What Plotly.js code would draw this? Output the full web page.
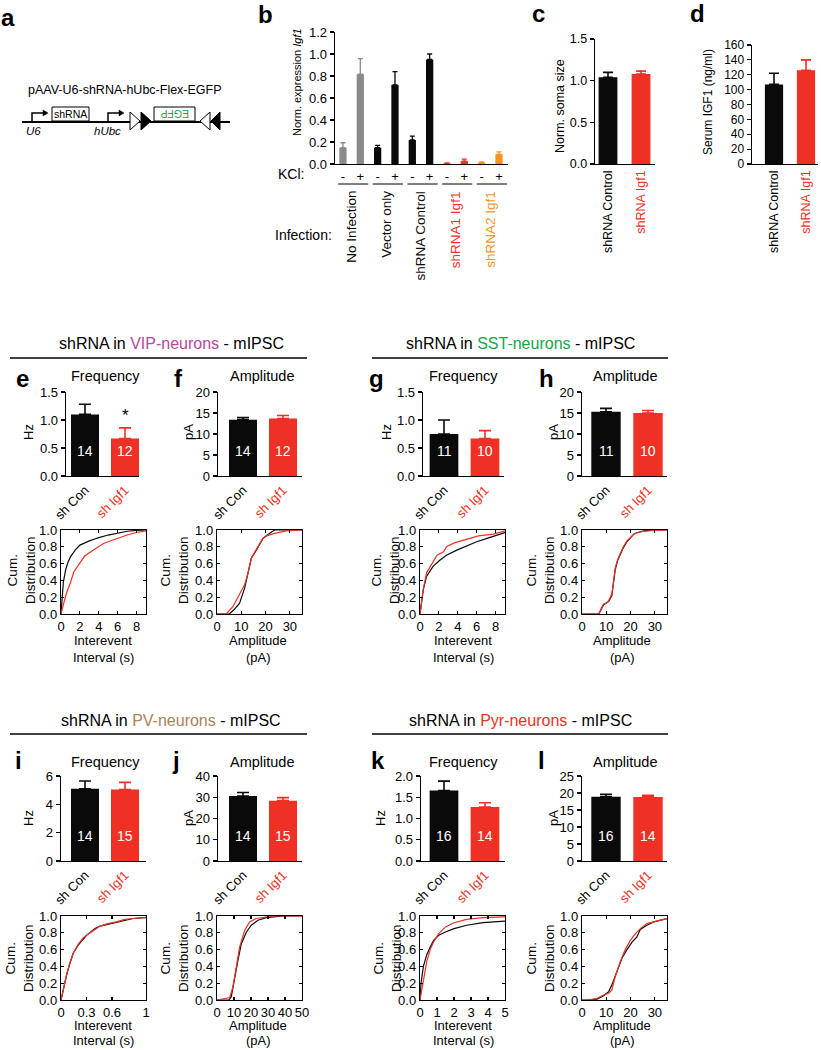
<!DOCTYPE html>
<html><head><meta charset="utf-8">
<script src="https://cdn.plot.ly/plotly-3.0.1.min.js"></script>
<style>html,body{margin:0;padding:0;background:#fff}#chart{width:821px;height:1050px}</style>
</head><body><div id="chart"></div>
<script>
// ================= DATA =================
// panel b
const bGroups = ['No Infection','Vector only','shRNA Control','shRNA1 Igf1','shRNA2 Igf1'];
const bKCl = ['-','+'];
const bMinus = [0.148, 0.148, 0.218, 0.005, 0.012];
const bMinusErr = [0.045, 0.022, 0.036, 0.005, 0.006];
const bPlus = [0.816, 0.72, 0.95, 0.027, 0.088];
const bPlusErr = [0.142, 0.12, 0.05, 0.018, 0.022];
// panels c, d
const cdLabels = ['shRNA Control','shRNA Igf1'];
const cValues = [1.04, 1.08];
const cErrors = [0.06, 0.035];
const dValues = [107, 126];
const dErrors = [15, 14];
// bar panels e-l
const barLabels = ['sh Con','sh Igf1'];
const eValues = [1.10, 0.67], eErrors = [0.18, 0.19], eN = ['14','12'];
const fValues = [13.4, 13.7], fErrors = [0.5, 0.7], fN = ['14','12'];
const gValues = [0.75, 0.67], gErrors = [0.25, 0.14], gN = ['11','10'];
const hValues = [15.3, 15.0], hErrors = [0.8, 0.6], hN = ['11','10'];
const iValues = [5.1, 5.05], iErrors = [0.55, 0.5], iN = ['14','15'];
const jValues = [30.6, 28.4], jErrors = [1.6, 1.4], jN = ['14','15'];
const kValues = [1.66, 1.27], kErrors = [0.22, 0.1], kN = ['16','14'];
const lValues = [18.9, 18.8], lErrors = [0.7, 0.5], lN = ['16','14'];
// cumulative distributions
const eConX = [0, 0.1, 0.25, 0.5, 0.75, 1, 1.5, 2, 2.5, 3, 3.5, 4, 5, 6, 7, 8, 9];
const eConY = [0, 0.21, 0.38, 0.53, 0.62, 0.68, 0.76, 0.82, 0.85, 0.87, 0.89, 0.91, 0.94, 0.96, 0.985, 0.995, 1.0];
const eIgfX = [0, 0.25, 0.5, 0.75, 1, 1.35, 1.7, 2, 2.5, 3, 3.5, 4, 4.5, 5, 5.5, 6, 7, 8, 9];
const eIgfY = [0, 0.12, 0.22, 0.3, 0.37, 0.5, 0.56, 0.62, 0.69, 0.73, 0.77, 0.81, 0.84, 0.86, 0.88, 0.9, 0.94, 0.97, 0.99];
const fConX = [0, 5, 7, 9.3, 11.4, 12.8, 14.1, 16.2, 18.9, 21.7, 23.7, 35];
const fConY = [0, 0, 0.05, 0.13, 0.31, 0.49, 0.66, 0.76, 0.9, 0.96, 1.0, 1.0];
const fIgfX = [0, 3.8, 6.6, 9.3, 11.4, 12.8, 14.1, 16.2, 18.9, 20.3, 23.7, 28.5, 35];
const fIgfY = [0, 0, 0.09, 0.24, 0.35, 0.49, 0.66, 0.77, 0.9, 0.93, 0.96, 0.99, 1.0];
const gConX = [0, 0.35, 0.7, 1.4, 2.1, 2.8, 3.9, 4.9, 6, 7.1, 8.1, 9];
const gConY = [0, 0.29, 0.45, 0.57, 0.64, 0.70, 0.76, 0.81, 0.86, 0.9, 0.94, 0.97];
const gIgfX = [0, 0.35, 0.7, 1.4, 1.8, 2.5, 2.8, 3.7, 4.9, 6.2, 7.8, 9];
const gIgfY = [0, 0.3, 0.49, 0.62, 0.70, 0.74, 0.8, 0.85, 0.89, 0.93, 0.95, 0.99];
const hConX = [0, 6.9, 8, 8.9, 10, 11, 12.3, 13, 13.7, 14.7, 15.8, 17, 18.5, 20, 21.3, 23, 25.4, 30, 35];
const hConY = [0, 0, 0.06, 0.11, 0.13, 0.15, 0.22, 0.38, 0.53, 0.64, 0.72, 0.79, 0.86, 0.91, 0.95, 0.97, 0.99, 1.0, 1.0];
const hIgfX = [0, 6.9, 8, 8.9, 10, 11, 12.3, 13, 13.7, 14.7, 15.8, 17, 18.5, 20, 21.3, 23, 25.4, 30, 35];
const hIgfY = [0, 0, 0.07, 0.12, 0.13, 0.16, 0.24, 0.4, 0.55, 0.65, 0.73, 0.8, 0.87, 0.92, 0.95, 0.97, 0.985, 0.995, 1.0];
const iConX = [0, 0.03, 0.067, 0.1, 0.145, 0.2, 0.26, 0.3, 0.35, 0.4, 0.46, 0.55, 0.65, 0.75, 0.85, 1.0];
const iConY = [0, 0.15, 0.3, 0.42, 0.56, 0.65, 0.73, 0.77, 0.81, 0.85, 0.88, 0.9, 0.92, 0.95, 0.97, 0.98];
const iIgfX = [0, 0.03, 0.067, 0.1, 0.145, 0.2, 0.26, 0.3, 0.35, 0.4, 0.46, 0.55, 0.65, 0.75, 0.85, 1.0];
const iIgfY = [0, 0.16, 0.31, 0.43, 0.56, 0.66, 0.74, 0.77, 0.81, 0.84, 0.88, 0.91, 0.93, 0.96, 0.97, 0.985];
const jConX = [0, 7, 8.4, 10.4, 12.4, 14.3, 17.3, 20.2, 24.1, 29, 38.8, 50];
const jConY = [0, 0, 0.04, 0.28, 0.48, 0.67, 0.81, 0.89, 0.95, 0.98, 1.0, 1.0];
const jIgfX = [0, 3.5, 7.5, 9.4, 11.4, 13.3, 16.3, 19.2, 23, 33, 50];
const jIgfY = [0, 0.01, 0.03, 0.16, 0.4, 0.63, 0.83, 0.93, 0.97, 1.0, 1.0];
const kConX = [0, 0.06, 0.2, 0.4, 0.6, 0.8, 1.1, 1.5, 2, 2.75, 3.7, 5];
const kConY = [0, 0.2, 0.4, 0.54, 0.63, 0.71, 0.77, 0.81, 0.85, 0.89, 0.92, 0.94];
const kIgfX = [0, 0.1, 0.2, 0.4, 0.6, 0.8, 1.1, 1.5, 2, 2.75, 3.7, 5];
const kIgfY = [0, 0.12, 0.26, 0.46, 0.6, 0.69, 0.79, 0.87, 0.92, 0.96, 0.98, 0.99];
const lConX = [0, 2, 6.2, 8.9, 11, 12.3, 14.4, 16.5, 18.5, 20.6, 22.6, 24, 26.7, 29.5, 35];
const lConY = [0, 0, 0.01, 0.05, 0.1, 0.18, 0.34, 0.5, 0.6, 0.69, 0.75, 0.84, 0.89, 0.93, 0.97];
const lIgfX = [0, 2.7, 6.2, 8.9, 11, 12.3, 13.7, 15.8, 17.8, 19.9, 22, 24, 26.7, 30.9, 35];
const lIgfY = [0, 0, 0.02, 0.06, 0.08, 0.12, 0.28, 0.46, 0.6, 0.71, 0.79, 0.85, 0.91, 0.94, 0.97];

// ================= STYLE / LAYOUT =================
const W = 821, H = 1050;
const FONT = 'Arial, "Liberation Sans", sans-serif';
const BLACK = '#0a0a0a', RED = '#ee3124', GRAY = '#8a8a8a', ORANGE = '#f7931e', GREEN = '#12a64b';
const bGroupColors = [GRAY, BLACK, BLACK, RED, ORANGE];
const pairColors = [BLACK, RED];
const px = x => x / W, py = y => 1 - y / H;

const data = [];
const layout = {
  width: W, height: H, margin: {l: 0, r: 0, t: 0, b: 0, pad: 0},
  showlegend: false, barmode: 'overlay',
  paper_bgcolor: '#fff', plot_bgcolor: 'rgba(0,0,0,0)',
  font: {family: FONT, size: 13, color: '#000'},
  annotations: [], shapes: []
};

function colorSpan(t, c) { return c === BLACK ? t : `<span style="color:${c}">${t}</span>`; }

let axN = 0;
function newAxes(x0, x1, yTop, yBot, xo, yo) {
  axN++;
  const s = axN === 1 ? '' : String(axN);
  const base = {showgrid: false, zeroline: false, showline: true, linecolor: '#000', linewidth: 1.4,
    fixedrange: true, tickfont: {family: FONT, size: 13, color: '#000'}, ticks: '', tickcolor: '#000', tickwidth: 1.2};
  layout['xaxis' + s] = Object.assign({}, base, {domain: [px(x0), px(x1)], anchor: 'y' + s}, xo);
  layout['yaxis' + s] = Object.assign({}, base, {domain: [py(yBot), py(yTop)], anchor: 'x' + s}, yo);
  return {x: 'x' + s, y: 'y' + s};
}

function T(x, y, text, size, color, extra) {
  layout.annotations.push(Object.assign({xref: 'paper', yref: 'paper', x: px(x), y: py(y), text: text,
    showarrow: false, xanchor: 'center', yanchor: 'middle',
    font: {family: FONT, size: size || 13, color: color || '#000'}}, extra || {}));
}
function L(x0, y0, x1, y1, w) {
  layout.shapes.push({type: 'line', xref: 'paper', yref: 'paper', x0: px(x0), y0: py(y0), x1: px(x1), y1: py(y1),
    line: {color: '#000', width: w || 1.5}});
}
function P(pts, fill, w) {
  const d = pts.map((p, i) => (i ? 'L' : 'M') + px(p[0]) + ',' + py(p[1])).join(' ') + (fill !== null ? ' Z' : '');
  layout.shapes.push({type: 'path', xref: 'paper', yref: 'paper', path: d,
    fillcolor: fill || 'rgba(0,0,0,0)', line: {color: '#000', width: w || 1.2}});
}
function R(x0, y0, x1, y1) {
  layout.shapes.push({type: 'rect', xref: 'paper', yref: 'paper', x0: px(x0), y0: py(y0), x1: px(x1), y1: py(y1),
    fillcolor: '#fff', line: {color: '#000', width: 1}});
}

function barPanel(o) {
  const u = o.c1 - o.c0;
  const ax = newAxes(o.L, o.R, o.top, o.bot,
    {range: [(o.L - o.c0) / u, (o.R - o.c0) / u], tickmode: 'array',
     tickvals: o.labels.map((_, i) => i), ticktext: o.labels.map((t, i) => colorSpan(t, o.colors[i])),
     tickangle: o.tickangle, tickfont: {family: FONT, size: o.lfs || 13, color: '#000'}},
    {range: o.yrange, tick0: 0, dtick: o.dtick, tickformat: o.fmt, ticks: 'outside', ticklen: 4,
     tickfont: {family: FONT, size: o.tfs || 13, color: '#000'}});
  o.values.forEach((v, i) => {
    data.push({type: 'bar', x: [i], y: [v], width: o.bw, marker: {color: o.colors[i], line: {width: 0}},
      error_y: {type: 'data', symmetric: false, array: [o.errors[i]], arrayminus: [0], color: o.colors[i],
        thickness: 1.6, width: o.capw}, xaxis: ax.x, yaxis: ax.y, hoverinfo: 'skip'});
  });
  if (o.counts) o.counts.forEach((n, i) => layout.annotations.push({xref: ax.x, yref: ax.y + ' domain', x: i, y: 0.18,
    text: n, showarrow: false, font: {family: FONT, size: 14, color: '#fff'}}));
  return ax;
}

function cdfPanel(o) {
  const ax = newAxes(o.L, o.R, o.top, o.bot,
    {range: o.xrange, tickmode: 'array', tickvals: o.tickvals, ticktext: o.tickvals.map(String),
     ticks: 'inside', ticklen: 3, mirror: 'ticks', linewidth: 1.2},
    {range: [0, 1], tick0: 0, dtick: 0.2, tickformat: '.1f', ticks: 'inside', ticklen: 3, mirror: 'ticks', linewidth: 1.2});
  o.curves.forEach(c => data.push({type: 'scatter', mode: 'lines', x: c[0], y: c[1],
    line: {color: c[2], width: 1.2}, xaxis: ax.x, yaxis: ax.y, hoverinfo: 'skip'}));
  return ax;
}

// ---------- panel a (schematic) ----------
T(8, 18, '<b>a</b>', 24);
T(125, 90, 'pAAV-U6-shRNA-hUbc-Flex-EGFP', 12.5);
L(22, 122, 230, 122, 1.8);
P([[32, 122], [32, 113], [43, 113]], null, 1.5);
P([[43, 110], [48, 113], [43, 116]], '#000', 0.5);
R(52, 107, 89, 121);
T(70.5, 114, 'shRNA', 10.5);
P([[108, 122], [108, 113], [119, 113]], null, 1.5);
P([[119, 110], [124, 113], [119, 116]], '#000', 0.5);
P([[130, 112], [140, 121], [130, 130]], '#fff', 1);
P([[141, 112], [151, 121], [141, 130]], '#000', 1);
R(154, 107, 195, 121);
T(174.5, 114, 'EGFP', 10.5, GREEN, {textangle: 180});
P([[210, 112], [200, 121], [210, 130]], '#fff', 1);
P([[220, 112], [211, 121], [220, 130]], '#000', 1);
T(33, 131, '<i>U6</i>', 11.5);
T(107, 131, '<i>hUbc</i>', 11.5);

// ---------- panel b ----------
T(265, 15, '<b>b</b>', 24);
const bAx = newAxes(335, 508, 32, 164,
  {range: [-0.46, 9.52], tickmode: 'array', tickvals: bGroups.flatMap((_, g) => [2 * g, 2 * g + 1]),
   ticktext: bGroups.flatMap(() => bKCl), tickangle: 0, tickfont: {family: FONT, size: 13, color: '#000'}},
  {range: [0, 1.2], tick0: 0, dtick: 0.2, tickformat: '.1f', ticks: 'outside', ticklen: 4});
bGroups.forEach((g, gi) => {
  data.push({type: 'bar', x: [2 * gi, 2 * gi + 1], y: [bMinus[gi], bPlus[gi]], width: 0.42,
    marker: {color: bGroupColors[gi]},
    error_y: {type: 'data', symmetric: false, array: [bMinusErr[gi], bPlusErr[gi]], arrayminus: [0, 0],
      color: bGroupColors[gi], thickness: 1.3, width: 2.5},
    xaxis: bAx.x, yaxis: bAx.y, hoverinfo: 'skip'});
  layout.shapes.push({type: 'line', xref: bAx.x, yref: 'paper', x0: 2 * gi - 0.28, x1: 2 * gi + 1.46,
    y0: py(184), y1: py(184), line: {color: '#000', width: 1}});
  layout.annotations.push({xref: bAx.x, yref: 'paper', x: 2 * gi + 0.5, y: py(189), text: g, textangle: -90,
    xanchor: 'center', yanchor: 'top', showarrow: false,
    font: {family: FONT, size: 13.5, color: bGroupColors[gi] === GRAY ? '#000' : bGroupColors[gi]}});
});
T(297, 82, 'Norm. expression <i>Igf1</i>', 11, '#000', {textangle: -90});
T(306, 174, 'KCl:', 14, '#000', {xanchor: 'right'});
T(334, 235, 'Infection:', 14, '#000', {xanchor: 'right'});

// ---------- panel c ----------
T(538, 14, '<b>c</b>', 24);
barPanel({L: 595, R: 655, c0: 608, c1: 641, top: 39, bot: 164, labels: cdLabels, colors: pairColors,
  values: cValues, errors: cErrors, yrange: [0, 1.5], dtick: 0.5, fmt: '.1f', bw: 0.57, capw: 5,
  tickangle: -90, lfs: 12.5, tfs: 12.5});
T(560, 106, 'Norm. soma size', 12.5, '#000', {textangle: -90});

// ---------- panel d ----------
T(697, 14, '<b>d</b>', 24);
barPanel({L: 752, R: 818, c0: 774, c1: 806, top: 45, bot: 164, labels: cdLabels, colors: pairColors,
  values: dValues, errors: dErrors, yrange: [0, 160], dtick: 20, fmt: 'd', bw: 0.57, capw: 5,
  tickangle: -90, lfs: 12.5, tfs: 12});
T(708, 102, 'Serum IGF1 (ng/ml)', 12, '#000', {textangle: -90});

// ---------- section headers ----------
const VIP = '#b8469c', SST = '#14a64a', PV = '#a9825a', PYR = '#ee3124';
T(171, 343, `shRNA in <span style="color:${VIP}">VIP-neurons</span> - mIPSC`, 16);
T(520, 343, `shRNA in <span style="color:${SST}">SST-neurons</span> - mIPSC`, 16);
L(10, 358, 307, 358, 1.6); L(372, 358, 668, 358, 1.6);
T(171, 720, `shRNA in <span style="color:${PV}">PV-neurons</span> - mIPSC`, 16);
T(520, 720, `shRNA in <span style="color:${PYR}">Pyr-neurons</span> - mIPSC`, 16);
L(10, 734, 307, 734, 1.6); L(372, 734, 668, 734, 1.6);

// ---------- bar panels e-l ----------
const common = {labels: barLabels, colors: pairColors, bw: 0.7, capw: 6, tickangle: -45};
const row1 = {top: 392, bot: 476}, row2 = {top: 776, bot: 861};
const eAx = barPanel(Object.assign({}, common, row1, {L: 66, R: 139, c0: 85, c1: 125, values: eValues, errors: eErrors, counts: eN, yrange: [0, 1.5], dtick: 0.5, fmt: '.1f'}));
barPanel(Object.assign({}, common, row1, {L: 218, R: 302, c0: 243, c1: 283, values: fValues, errors: fErrors, counts: fN, yrange: [0, 20], dtick: 5, fmt: 'd'}));
barPanel(Object.assign({}, common, row1, {L: 423, R: 504, c0: 444, c1: 485, values: gValues, errors: gErrors, counts: gN, yrange: [0, 1.5], dtick: 0.5, fmt: '.1f'}));
barPanel(Object.assign({}, common, row1, {L: 582, R: 667, c0: 606, c1: 648, values: hValues, errors: hErrors, counts: hN, yrange: [0, 20], dtick: 5, fmt: 'd'}));
barPanel(Object.assign({}, common, row2, {L: 61, R: 146, c0: 85, c1: 125, values: iValues, errors: iErrors, counts: iN, yrange: [0, 6], dtick: 2, fmt: 'd'}));
barPanel(Object.assign({}, common, row2, {L: 218, R: 302, c0: 243, c1: 283, values: jValues, errors: jErrors, counts: jN, yrange: [0, 40], dtick: 10, fmt: 'd'}));
barPanel(Object.assign({}, common, row2, {L: 421, R: 505, c0: 444, c1: 485, values: kValues, errors: kErrors, counts: kN, yrange: [0, 2], dtick: 0.5, fmt: '.1f'}));
barPanel(Object.assign({}, common, row2, {L: 582, R: 667, c0: 606, c1: 648, values: lValues, errors: lErrors, counts: lN, yrange: [0, 25], dtick: 5, fmt: 'd'}));
layout.annotations.push({xref: eAx.x, yref: eAx.y, x: 1, y: eValues[1] + eErrors[1], yanchor: 'bottom', yshift: 1,
  text: '*', showarrow: false, font: {family: FONT, size: 17, color: '#000'}});

// letters, titles, y labels for bar rows
[[22, 378, 'e'], [178, 378, 'f'], [376, 378, 'g'], [546, 378, 'h'],
 [18, 760, 'i'], [176, 760, 'j'], [378, 760, 'k'], [541, 760, 'l']].forEach(a => T(a[0], a[1], '<b>' + a[2] + '</b>', 24));
[[106, 376, 'Frequency'], [262, 376, 'Amplitude'], [463, 376, 'Frequency'], [625, 376, 'Amplitude'],
 [106, 762, 'Frequency'], [262, 762, 'Amplitude'], [464, 762, 'Frequency'], [625, 762, 'Amplitude']].forEach(a => T(a[0], a[1], a[2], 14.5));
[[28, 432, 'Hz'], [188, 432, 'pA'], [386, 432, 'Hz'], [553, 432, 'pA'],
 [28, 818, 'Hz'], [188, 818, 'pA'], [380, 818, 'Hz'], [553, 818, 'pA']].forEach(a => T(a[0], a[1], a[2], 13, '#000', {textangle: -90}));

// ---------- CDF panels ----------
const c1 = {top: 530, bot: 614}, c2 = {top: 916, bot: 1000};
cdfPanel(Object.assign({}, c1, {L: 61, R: 146, xrange: [0, 9], tickvals: [0, 2, 4, 6, 8], curves: [[eConX, eConY, BLACK], [eIgfX, eIgfY, RED]]}));
cdfPanel(Object.assign({}, c1, {L: 217, R: 302, xrange: [0, 35], tickvals: [0, 10, 20, 30], curves: [[fConX, fConY, BLACK], [fIgfX, fIgfY, RED]]}));
cdfPanel(Object.assign({}, c1, {L: 420, R: 505, xrange: [0, 9], tickvals: [0, 2, 4, 6, 8], curves: [[gConX, gConY, BLACK], [gIgfX, gIgfY, RED]]}));
cdfPanel(Object.assign({}, c1, {L: 582, R: 667, xrange: [0, 35], tickvals: [0, 10, 20, 30], curves: [[hConX, hConY, BLACK], [hIgfX, hIgfY, RED]]}));
cdfPanel(Object.assign({}, c2, {L: 61, R: 146, xrange: [0, 1], tickvals: [0, 0.3, 0.6, 1], curves: [[iConX, iConY, BLACK], [iIgfX, iIgfY, RED]]}));
cdfPanel(Object.assign({}, c2, {L: 217, R: 302, xrange: [0, 50], tickvals: [0, 10, 20, 30, 40, 50], curves: [[jConX, jConY, BLACK], [jIgfX, jIgfY, RED]]}));
cdfPanel(Object.assign({}, c2, {L: 420, R: 505, xrange: [0, 5], tickvals: [0, 1, 2, 3, 4, 5], curves: [[kConX, kConY, BLACK], [kIgfX, kIgfY, RED]]}));
cdfPanel(Object.assign({}, c2, {L: 582, R: 667, xrange: [0, 35], tickvals: [0, 10, 20, 30], curves: [[lConX, lConY, BLACK], [lIgfX, lIgfY, RED]]}));

[[21, 570], [174, 570], [385, 570], [540, 570], [19, 958], [174, 958], [387, 958], [540, 958]].forEach(a =>
  T(a[0], a[1], 'Cum.<br>Distribution', 13.5, '#000', {textangle: -90}));
// two-line x titles for cumulative plots, one annotation per line
[[103, 'Interevent', 'Interval (s)'], [258, 'Amplitude', '(pA)'], [463, 'Interevent', 'Interval (s)'], [622, 'Amplitude', '(pA)']].forEach(a => {
  T(a[0], 640, a[1], 13); T(a[0], 657, a[2], 13);
  T(a[0], 1025, a[1], 13); T(a[0], 1040, a[2], 13);
});

Plotly.newPlot('chart', data, layout, {staticPlot: true, displayModeBar: false});
</script>
</body></html>
